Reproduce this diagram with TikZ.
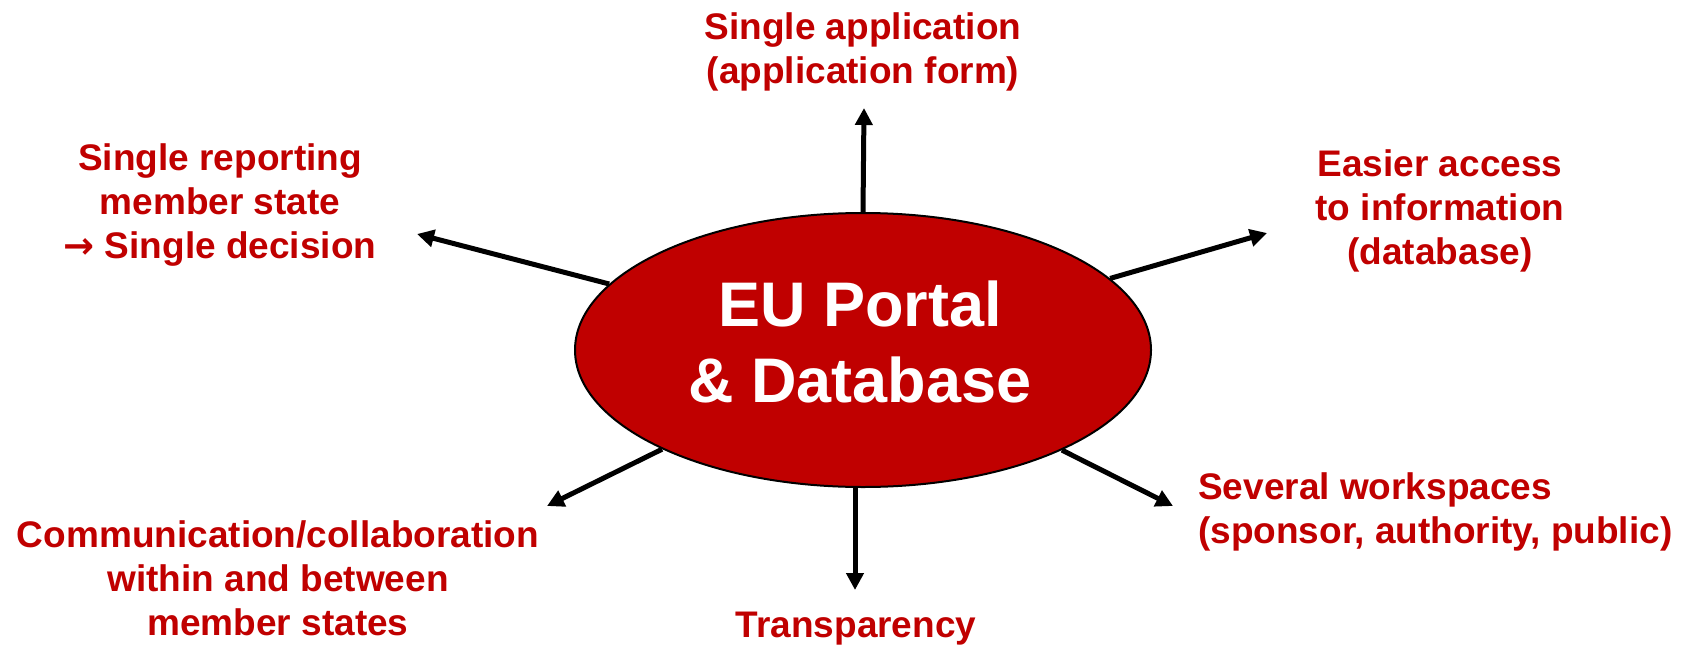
\documentclass[tikz,border=0pt]{standalone}
\usepackage{fontspec}
\setmainfont{Liberation Sans}
\newfontfamily\arrowfont{DejaVu Sans}
\usepackage{xcolor}
\usetikzlibrary{shapes.geometric, arrows.meta}
\definecolor{eured}{RGB}{192,0,0}

\tikzset{
	portalshape/.style = {ellipse, draw = black, line width = 2pt, fill = eured,
		minimum width = 576pt, minimum height = 274pt, inner sep = 0pt},
	portaltitle/.style = {text = white, align = center, inner sep = 0pt,
		font = \bfseries\fontsize{63}{76}\selectfont},
	goal/.style = {text = eured, align = center, inner sep = 0pt,
		font = \bfseries\fontsize{37}{44}\selectfont},
	ray/.style = {-{Triangle[length = 17pt, width = 17pt]}, line width = 5pt}
}

\begin{document}
\begin{tikzpicture}[x = 1pt, y = -1pt]
	\useasboundingbox (0,0) rectangle (1683,645);

	\node [portalshape] (portal) at (863,350) {};
	\node [portaltitle, anchor = base] (portaltext) at (860,402) {EU Portal\\\& Database};

	% arrow tips
	\coordinate (tipN) at (864,108);
	\coordinate (tipNW) at (417,234);
	\coordinate (tipNE) at (1267,233);
	\coordinate (tipSW) at (547,506);
	\coordinate (tipS) at (855,590);
	\coordinate (tipSE) at (1173,506);

	\draw [ray] (portal.north) -- (tipN);
	\draw [ray] (portal) -- (tipNW);
	\draw [ray] (portal) -- (tipNE);
	\draw [ray] (portal) -- (tipSW);
	\draw [ray] (portal.south -| tipS) -- (tipS);
	\draw [ray] (portal) -- (tipSE);

	% goals (base = last line)
	\node [goal, anchor = base] (application) at (863,83) {Single application\\(application form)};
	\node [goal, anchor = base] (reporting) at (220,258) {Single reporting\\member state\\{\arrowfont →} Single decision};
	\node [goal, anchor = base] (access) at (1440,264) {Easier access\\to information\\(database)};
	\node [goal, anchor = base west, align = left] (workspaces) at (1198,543) {Several workspaces\\(sponsor, authority, public)};
	\node [goal, anchor = base] (transparency) at (856,637) {Transparency};
	\node [goal, anchor = base] (communication) at (278,635) {Communication/collaboration\\within and between\\member states};
\end{tikzpicture}
\end{document}
